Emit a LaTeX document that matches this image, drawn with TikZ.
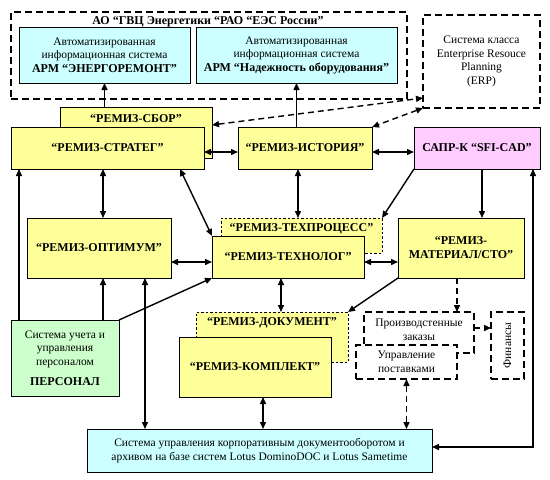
\documentclass[tikz,border=0pt]{standalone}
\usepackage{fontspec}
\setmainfont{Liberation Serif}
\usetikzlibrary{arrows.meta}
\definecolor{yel}{HTML}{FFFF99}
\definecolor{cyn}{HTML}{CCFFFF}
\definecolor{pnk}{HTML}{FFCCFF}
\definecolor{grn}{HTML}{CCFFCC}
\newcommand\myfs{\fontsize{11.5}{13.5}\selectfont}
\newcommand\mybf{\fontsize{12}{14}\selectfont\bfseries}
\begin{document}
\begin{tikzpicture}[x=1pt,y=-1pt,
  >={Triangle[length=7pt,width=6pt]},
  box/.style={draw=black, line width=0.8pt, inner sep=0pt, outer sep=0pt, align=center, font=\myfs},
  ybox/.style={box, fill=yel, font=\mybf},
  dybox/.style={ybox, line width=0.9pt, dash pattern=on 2.5pt off 2pt},
  dbox/.style={draw=black, line width=1.8pt, dash pattern=on 7pt off 4pt, fill=white, inner sep=0pt, outer sep=0pt, align=center, font=\myfs},
  lbl/.style={font=\mybf, inner sep=0pt},
  arr/.style={line width=1.4pt},
  darr/.style={line width=1.4pt, dash pattern=on 6pt off 4pt}]
\useasboundingbox (0,0) rectangle (550,480);
\fill[white] (0,0) rectangle (550,480);

% group frame
\node[dbox, minimum width=396, minimum height=87] (grp) at (209,55.5) {};
\node[lbl] (grptitle) at (208,21.5) {АО “ГВЦ Энергетики “РАО “ЕЭС России”};
\node[box, fill=cyn, minimum width=171, minimum height=56] (arm1) at (104.5,55)
  {Автоматизированная\\информационная система\\{\mybf АРМ “ЭНЕРГОРЕМОНТ”}};
\node[box, fill=cyn, minimum width=201, minimum height=56] (arm2) at (296.5,55)
  {Автоматизированная\\информационная система\\{\mybf АРМ “Надежность оборудования”}};
\node[dbox, minimum width=117, minimum height=93] (erp) at (481.5,61.5)
  {Система класса\\Enterprise Resouce\\Planning\\(ERP)};

% yellow row 1
\node[ybox, minimum width=152, minimum height=51] (sbor) at (136,132.5) {};
\node[lbl] (sborlbl) at (136,119) {“РЕМИЗ-СБОР”};
\node[ybox, minimum width=193, minimum height=42] (strateg) at (107.5,148) {“РЕМИЗ-СТРАТЕГ”};
\node[ybox, minimum width=134, minimum height=42] (istoria) at (305,148) {“РЕМИЗ-ИСТОРИЯ”};
\node[box, fill=pnk, font=\mybf, minimum width=126, minimum height=42] (sapr) at (477,148) {САПР-К “SFI-CAD”};

% row 2
\node[ybox, minimum width=144, minimum height=60] (optimum) at (99,248) {“РЕМИЗ-ОПТИМУМ”};
\node[dybox, minimum width=161, minimum height=35] (techproc) at (301.5,235.5) {};
\node[lbl] (techproclbl) at (301.5,229) {“РЕМИЗ-ТЕХПРОЦЕСС”};
\node[ybox, minimum width=152, minimum height=42] (technolog) at (288,257) {“РЕМИЗ-ТЕХНОЛОГ”};
\node[ybox, minimum width=126, minimum height=60] (material) at (461,248) {“РЕМИЗ-\\МАТЕРИАЛ/СТО”};

% row 3
\node[dybox, minimum width=152, minimum height=50] (dokument) at (272,337) {};
\node[lbl] (dokumentlbl) at (272,323) {“РЕМИЗ-ДОКУМЕНТ”};
\node[ybox, minimum width=152, minimum height=60] (komplekt) at (255,367) {“РЕМИЗ-КОМПЛЕКТ”};
\node[box, fill=grn, minimum width=108, minimum height=76] (personal) at (65,358)
  {Система учета и\\управления\\персоналом\\[7pt]{\mybf ПЕРСОНАЛ}};

\node[dbox, minimum width=110, minimum height=41] (prod) at (419,332.5) {};
\node[font=\myfs, align=center, inner sep=0pt] (prodlbl) at (419,330) {Производстенные\\заказы};
\node[dbox, minimum width=101, minimum height=34] (upr) at (406.5,362) {Управление\\поставками};
\node[dbox, minimum width=33, minimum height=67] (fin) at (507.5,345.5) {\rotatebox{90}{Финансы}};

\node[box, fill=cyn, minimum width=345, minimum height=43] (lotus) at (259.5,450.5)
  {Система управления корпоративным документооборотом и\\архивом на базе систем Lotus DominoDOC и Lotus Sametime};

% connectors
\draw[arr,->] (sbor.north -| arm1.south) -- (arm1.south);
\draw[arr,->] (istoria.north -| arm2.south) -- (arm2.south);
\draw[darr,<->] ([yshift=7.5]sbor.east) -- ([yshift=10]erp.south west);
\draw[darr,<->] (erp.south west) -- (istoria.north east);
\draw[arr,<->] ([yshift=-4]strateg.east) -- ([yshift=-4]istoria.west);
\draw[arr,<->] ([yshift=-4]istoria.east) -- ([yshift=-4]sapr.west);
\draw[arr,<->] ([xshift=92]strateg.south west) -- ([xshift=76]optimum.north west);
\draw[arr,<->] ([xshift=169]strateg.south west) -- (technolog.north west);
\draw[arr,->] ([xshift=8]personal.north west) -- ([xshift=8]strateg.south west);
\draw[arr,->] ([xshift=92]personal.north west) -- ([xshift=76]optimum.south west);
\draw[arr,->] (personal.north east) -- (technolog.south west);
\draw[arr,<->] ([xshift=118]optimum.south west) -- ([xshift=58]lotus.north west);
\draw[arr,<->] ([yshift=-14]optimum.east) -- ([yshift=-5]technolog.west);
\draw[arr,<->] ([xshift=60]istoria.south west) -- ([xshift=77]techproc.north west);
\draw[arr,->] (sapr.south west) -- (techproc.north east);
\draw[arr,->] ([xshift=68]sapr.south west) -- ([xshift=84]material.north west);
\draw[arr,<->] ([xshift=119]sapr.south west) |- ([yshift=3.5]lotus.east);
\draw[arr,<->] ([yshift=-5]technolog.east) -- ([yshift=-14]material.west);
\draw[arr,<->] ([xshift=69]technolog.south west) -- ([xshift=85]dokument.north west);
\draw[arr,->] (material.south west) -- (dokument.north east);
\draw[darr,->] ([xshift=59]material.south west) -- ([xshift=93]prod.north west);
\draw[darr,->] ([yshift=4.5]prod.east) -- ([yshift=17.5]fin.west);
\draw[darr,<->] (upr.south) -- (upr.south |- lotus.north);
\draw[arr,<->] ([xshift=84]komplekt.south west) -- ([xshift=176]lotus.north west);
\end{tikzpicture}
\end{document}
